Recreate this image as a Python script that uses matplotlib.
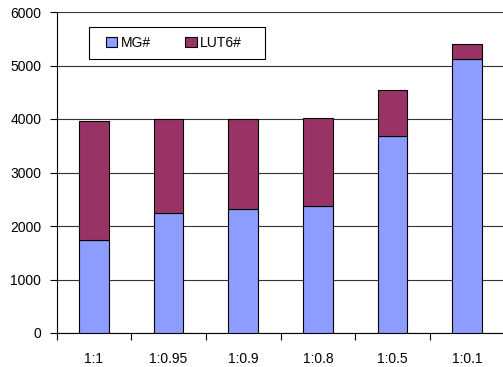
import numpy as np
import matplotlib
matplotlib.use("Agg")
import matplotlib.pyplot as plt
from matplotlib.patches import Rectangle
from matplotlib.ticker import FixedLocator, NullFormatter

plt.rcParams['font.family'] = ['Liberation Sans', 'DejaVu Sans']

categories = ['1:1', '1:0.95', '1:0.9', '1:0.8', '1:0.5', '1:0.1']
mg = [1740, 2250, 2320, 2365, 3685, 5115]
total = [3960, 3995, 4000, 4015, 4550, 5400]
lut6 = [t - m for t, m in zip(total, mg)]

W, H = 503, 367
fig = plt.figure(figsize=(W / 100, H / 100), dpi=100)
ax = fig.add_axes([56.5 / W, 1 - 333 / H, 448 / W, 321 / H])

x = np.arange(len(categories))
ax.bar(x, mg, width=0.4, color='#8c9cff', edgecolor='black', linewidth=0.8,
       label='MG#', zorder=3)
ax.bar(x, lut6, bottom=mg, width=0.4, color='#993366', edgecolor='black',
       linewidth=0.8, label='LUT6#', zorder=3)

ax.set_xlim(-0.5, len(categories) - 0.5)
ax.set_ylim(0, 6000)
ax.set_yticks(range(0, 6001, 1000))
ax.yaxis.grid(True, color='#333333', linewidth=0.8, zorder=0)

ax.set_xticks(x)
ax.set_xticklabels(categories, fontsize=10)
ax.tick_params(axis='x', length=0, pad=14)
ax.xaxis.set_minor_locator(FixedLocator(np.arange(-0.5, len(categories), 1)))
ax.xaxis.set_minor_formatter(NullFormatter())
ax.tick_params(axis='x', which='minor', length=5, width=0.8, direction='out')
ax.tick_params(axis='y', length=5, width=0.8, labelsize=10, pad=6)

for s in ['top', 'right']:
    ax.spines[s].set_visible(False)
for s in ['left', 'bottom']:
    ax.spines[s].set_linewidth(0.8)

# legend box drawn by hand (Excel style: wide horizontal padding)
ax.add_patch(Rectangle((89 / W, 1 - 59 / H), 176 / W, 32 / H,
                       transform=fig.transFigure, facecolor='white',
                       edgecolor='black', linewidth=0.8, zorder=4,
                       clip_on=False))
leg = ax.legend(loc='center left', bbox_to_anchor=(106 / W, 1 - 43 / H),
                bbox_transform=fig.transFigure, ncol=2, frameon=False,
                fontsize=10, handlelength=0.8, handleheight=0.8,
                columnspacing=2.5, handletextpad=0.25, borderpad=0,
                borderaxespad=0)
leg.set_zorder(5)

fig.savefig('out.png', dpi=100)
